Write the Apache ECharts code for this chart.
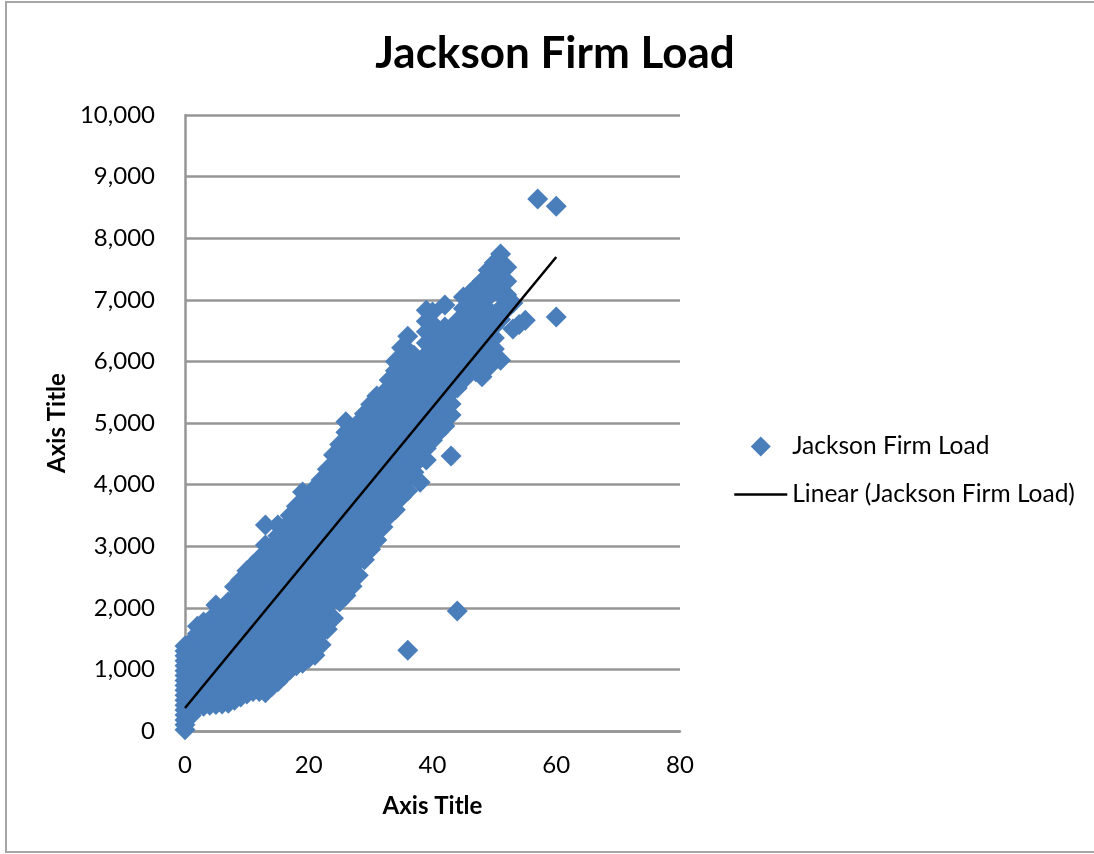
<!DOCTYPE html>
<html>
<head>
<meta charset="utf-8">
<title>Jackson Firm Load</title>
<script src="https://cdn.jsdelivr.net/npm/echarts@6/dist/echarts.min.js"></script>
<style>html,body{margin:0;padding:0;background:#fff}#chart{width:1094px;height:854px}</style>
</head>
<body>
<div id="chart"></div>
<script>
const seriesName = 'Jackson Firm Load';
const trendName = 'Linear (Jackson Firm Load)';
const temperatures = [0,1,2,3,4,5,6,7,8,9,10,11,12,13,14,15,16,17,18,19,20,21,22,23,24,25,26,27,28,29,30,31,32,33,34,35,36,37,38,39,40,41,42,43,44,45,46,47,48,49,50,51,52,53,54,55,57,60];
const loadsByTemp = [
 [20,100,180,260,340,420,500,580,660,740,820,900,980,1060,1140,1220,1300,1380],
 [250,430,560,700,840,980,1120,1260,1450],
 [390,570,720,860,1010,1160,1300,1450,1580,1700],
 [400,560,710,860,1020,1180,1340,1500,1640,1770],
 [420,590,750,920,1090,1260,1430,1600,1800],
 [430,600,770,940,1110,1280,1450,1620,1790,1900,2045],
 [440,620,800,980,1160,1340,1520,1700,1840,1980],
 [450,630,810,990,1170,1350,1530,1710,1890,2100],
 [500,680,860,1040,1220,1400,1580,1760,1940,2150,2340],
 [550,730,910,1090,1270,1450,1630,1810,1990,2170,2320,2450],
 [600,780,960,1140,1320,1500,1680,1860,2040,2220,2400,2600],
 [640,820,1000,1180,1360,1540,1720,1900,2080,2260,2440,2580,2700],
 [640,830,1020,1210,1400,1590,1780,1970,2160,2350,2540,2680,2800],
 [620,800,990,1180,1370,1560,1750,1940,2130,2320,2510,2700,2880,3020,3345],
 [720,900,1090,1280,1470,1660,1850,2040,2230,2420,2610,2800,3000],
 [800,980,1170,1360,1550,1740,1930,2120,2310,2500,2690,2880,3060,3170,3345],
 [900,1090,1280,1470,1660,1850,2040,2230,2420,2610,2800,2990,3150,3300],
 [1000,1190,1380,1570,1760,1950,2140,2330,2520,2710,2900,3090,3280,3500],
 [1060,1250,1440,1630,1820,2010,2200,2390,2580,2770,2960,3150,3340,3500,3650],
 [1100,1290,1480,1670,1860,2050,2240,2430,2620,2810,3000,3190,3380,3570,3720,3880],
 [1180,1370,1560,1750,1940,2130,2320,2510,2700,2890,3080,3270,3460,3640,3800],
 [1230,1420,1610,1800,1990,2180,2370,2560,2750,2940,3130,3320,3510,3700,3830,3950],
 [1400,1590,1780,1970,2160,2350,2540,2730,2920,3110,3300,3490,3680,3880,4075],
 [1650,1840,2030,2220,2410,2600,2790,2980,3170,3360,3550,3740,3930,4100,4250],
 [1830,2130,2310,2500,2690,2880,3070,3260,3450,3640,3830,4020,4200,4340,4480],
 [2100,2290,2480,2670,2860,3050,3240,3430,3620,3810,4000,4190,4380,4520,4650],
 [2200,2390,2580,2770,2960,3150,3340,3530,3720,3910,4100,4290,4480,4670,4850,5020],
 [2350,2540,2730,2920,3110,3300,3490,3680,3870,4060,4250,4440,4630,4780,4900],
 [2530,2750,2940,3130,3320,3510,3700,3890,4080,4270,4460,4650,4840,5000],
 [2780,2940,3130,3320,3510,3700,3890,4080,4270,4460,4650,4840,5000,5150],
 [2950,3180,3370,3560,3750,3940,4130,4320,4510,4700,4890,5080,5300],
 [3100,3280,3470,3660,3850,4040,4230,4420,4610,4800,4990,5180,5320,5440],
 [3310,3490,3680,3870,4060,4250,4440,4630,4820,5010,5200,5350,5480],
 [3500,3690,3880,4070,4260,4450,4640,4830,5020,5210,5400,5560,5700],
 [3590,3800,3990,4180,4370,4560,4750,4940,5130,5320,5510,5700,5850,6000],
 [3800,3990,4180,4370,4560,4750,4940,5130,5320,5510,5700,5890,6060,6220],
 [3900,4090,4280,4470,4660,4850,5040,5230,5420,5610,5800,5990,6180,6410],
 [4200,4390,4580,4770,4960,5150,5340,5530,5720,5910,6100],
 [4040,4420,4610,4800,4990,5180,5370,5560,5750,5900,6000],
 [4400,4590,4780,4970,5160,5350,5540,5730,5920,6110,6300,6480,6650,6830],
 [4720,4900,5090,5280,5470,5660,5850,6040,6230,6420,6610,6800],
 [4850,5030,5220,5410,5600,5790,5980,6170,6360,6500],
 [4950,5130,5320,5510,5700,5890,6080,6270,6440,6560,6915],
 [4465,5130,5310,5500,5690,5880,6070,6260,6480],
 [1950,5570,5750,5940,6130,6320,6510,6650],
 [5700,5880,6070,6260,6450,6640,6860,7045],
 [5850,6030,6220,6410,6600,6790,6950,7100],
 [5830,6010,6200,6390,6580,6770,6960,7200],
 [5750,5940,6130,6320,6510,6700,6880,7060,7300],
 [5900,6080,6270,6460,6650,6840,7040,7270,7480],
 [6200,6380,6570,6760,7150,7360,7600],
 [6020,6680,6860,7080,7290,7500,7745],
 [6850,7080,7300,7530],
 [6525,6950],
 [6600],
 [6670],
 [8636],
 [6720,8520]
];
const outlierTemp = 36;
const outlierLoad = 1310;
const trendTemps = [0, 60];
const trendLoads = [373, 7695];
const axisXMax = 80, axisXStep = 20, axisYMax = 10000, axisYStep = 1000;

const points = [];
temperatures.forEach((t, i) => loadsByTemp[i].forEach(v => points.push([t, v])));
points.push([outlierTemp, outlierLoad]);

const chart = echarts.init(document.getElementById('chart'), null, {renderer: 'canvas'});
const gray = '#969696';
chart.setOption({
  backgroundColor: '#fff',
  animation: false,
  textStyle: {fontFamily: 'Lato'},
  title: {
    text: seriesName, left: 550, top: 27, textAlign: 'center',
    textStyle: {fontFamily: 'Lato', fontSize: 44, fontWeight: 'bold', color: '#000'}
  },
  grid: {left: 185, right: 414, top: 115, bottom: 123},
  legend: {
    orient: 'vertical', left: 733, top: 434, padding: 0, itemWidth: 53, itemHeight: 20, itemGap: 23,
    textStyle: {fontFamily: 'Lato', fontSize: 24.5, color: '#000'},
    data: [
      {name: seriesName, icon: 'path://M0 10L10 0L20 10L10 20Z'},
      {name: trendName, itemStyle: {color: 'transparent', borderColor: 'transparent'}, lineStyle: {color: '#000', width: 2.5}}
    ]
  },
  xAxis: {
    type: 'value', min: 0, max: axisXMax, interval: axisXStep,
    name: 'Axis Title', nameLocation: 'middle', nameGap: 63,
    nameTextStyle: {fontFamily: 'Lato', fontSize: 24, fontWeight: 'bold', color: '#000'},
    axisLine: {show: true, lineStyle: {color: gray, width: 2.5}},
    axisTick: {show: false},
    axisLabel: {fontFamily: 'Lato', fontSize: 24, color: '#000', margin: 22},
    splitLine: {show: false}
  },
  yAxis: {
    type: 'value', min: 0, max: axisYMax, interval: axisYStep,
    name: 'Axis Title', nameLocation: 'middle', nameGap: 116,
    nameTextStyle: {fontFamily: 'Lato', fontSize: 24, fontWeight: 'bold', color: '#000'},
    axisLine: {show: true, lineStyle: {color: gray, width: 2.5}},
    axisTick: {show: false},
    axisLabel: {fontFamily: 'Lato', fontSize: 24, color: '#000', margin: 30},
    splitLine: {show: true, lineStyle: {color: gray, width: 2.5}}
  },
  graphic: [{
    type: 'rect', z: -1, silent: true,
    shape: {x: 6, y: 2, width: 1100, height: 850},
    style: {fill: 'transparent', stroke: '#a6a6a6', lineWidth: 2}
  }],
  series: [{
    name: seriesName, type: 'scatter', symbol: 'diamond', symbolSize: 21, clip: false,
    itemStyle: {color: '#4a7ebb', opacity: 1}, data: points, z: 3
  }, {
    name: trendName, type: 'line', symbol: 'none', clip: false,
    lineStyle: {color: '#000', width: 2.5},
    itemStyle: {color: '#000'},
    data: trendTemps.map((t, i) => [t, trendLoads[i]]), z: 4
  }]
});
</script>
</body>
</html>
